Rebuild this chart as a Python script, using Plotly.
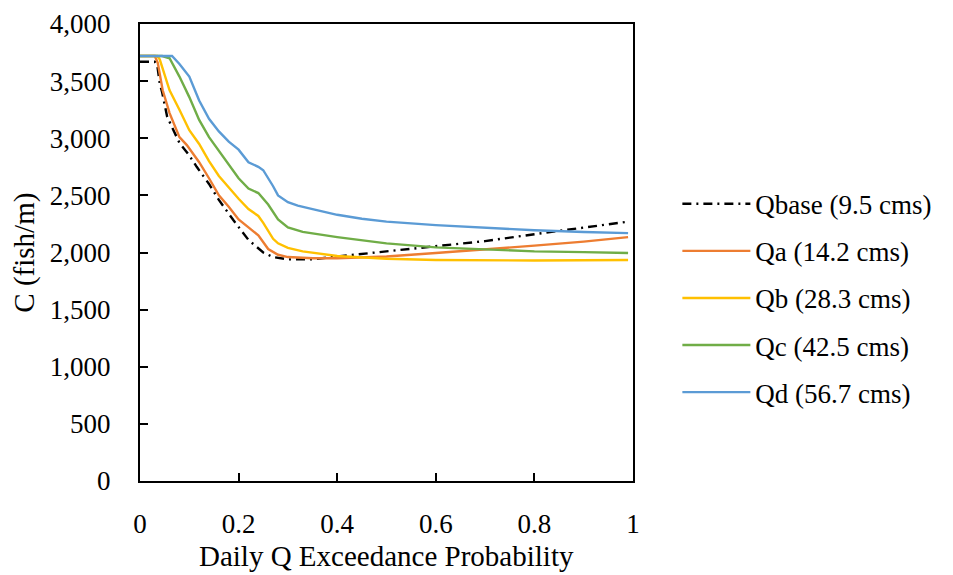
import plotly.graph_objects as go

# Qbase (9.5 cms)
x_base = [0, 0.03, 0.035, 0.04, 0.045, 0.055, 0.07, 0.08, 0.10, 0.115, 0.14, 0.16, 0.19, 0.22, 0.25, 0.27, 0.30, 0.35, 0.40, 0.50, 0.60, 0.70, 0.80, 0.90, 0.99]
y_base = [3670, 3670, 3640, 3480, 3400, 3190, 3050, 2960, 2850, 2750, 2600, 2460, 2280, 2110, 2000, 1960, 1940, 1940, 1965, 2010, 2055, 2100, 2160, 2215, 2270]

# Qa (14.2 cms)
x_a = [0, 0.03, 0.036, 0.046, 0.06, 0.08, 0.095, 0.12, 0.14, 0.16, 0.18, 0.20, 0.22, 0.24, 0.26, 0.28, 0.30, 0.35, 0.40, 0.50, 0.60, 0.70, 0.80, 0.90, 0.95, 0.99]
y_a = [3720, 3720, 3660, 3420, 3220, 3010, 2940, 2790, 2650, 2500, 2400, 2290, 2220, 2150, 2030, 1980, 1960, 1950, 1950, 1965, 1995, 2025, 2060, 2095, 2120, 2135]

# Qb (28.3 cms)
x_b = [0, 0.035, 0.04, 0.06, 0.08, 0.10, 0.12, 0.14, 0.16, 0.18, 0.20, 0.22, 0.24, 0.25, 0.27, 0.28, 0.30, 0.33, 0.40, 0.50, 0.60, 0.80, 0.99]
y_b = [3720, 3720, 3690, 3420, 3250, 3070, 2950, 2800, 2670, 2570, 2470, 2380, 2320, 2260, 2120, 2080, 2040, 2010, 1970, 1945, 1935, 1930, 1935]

# Qc (42.5 cms)
x_c = [0, 0.045, 0.06, 0.08, 0.10, 0.12, 0.14, 0.16, 0.18, 0.20, 0.22, 0.24, 0.26, 0.28, 0.30, 0.33, 0.40, 0.50, 0.60, 0.70, 0.80, 0.90, 0.99]
y_c = [3720, 3720, 3700, 3540, 3360, 3160, 3010, 2890, 2780, 2650, 2560, 2520, 2420, 2290, 2220, 2180, 2135, 2080, 2045, 2025, 2010, 2003, 1995]

# Qd (56.7 cms)
x_d = [0, 0.065, 0.08, 0.10, 0.12, 0.14, 0.16, 0.18, 0.20, 0.22, 0.24, 0.25, 0.27, 0.28, 0.30, 0.32, 0.35, 0.40, 0.45, 0.50, 0.60, 0.70, 0.80, 0.90, 0.99]
y_d = [3720, 3720, 3650, 3540, 3330, 3170, 3060, 2970, 2900, 2790, 2750, 2720, 2580, 2500, 2440, 2410, 2380, 2330, 2295, 2270, 2240, 2215, 2195, 2180, 2170]

series = [
    ("Qbase (9.5 cms)", x_base, y_base, "#000000", "9px,5px,2px,5px"),
    ("Qa (14.2 cms)", x_a, y_a, "#ED7D31", "solid"),
    ("Qb (28.3 cms)", x_b, y_b, "#FFC000", "solid"),
    ("Qc (42.5 cms)", x_c, y_c, "#70AD47", "solid"),
    ("Qd (56.7 cms)", x_d, y_d, "#5B9BD5", "solid"),
]

x_title = "Daily Q Exceedance Probability"
y_title = "C (fish/m)"

fig = go.Figure()
for name, xs, ys, col, dash in series:
    fig.add_trace(go.Scatter(x=xs, y=ys, mode="lines", name=name, legendgroup=name,
                             line=dict(color=col, width=2.4, dash=dash)))

tick_font = dict(family="Liberation Serif", size=27, color="#000000")
big_font = dict(family="Liberation Serif", size=29, color="#000000")
legend_font = dict(family="Liberation Serif", size=27, color="#000000")
fig.update_layout(
    width=945, height=567,
    margin=dict(l=132, r=320, t=16, b=94, autoexpand=False),
    paper_bgcolor="white", plot_bgcolor="white",
    font=tick_font,
    showlegend=True,
    legend=dict(x=1.09, xanchor="left", y=0.40, yanchor="middle",
                font=legend_font, tracegroupgap=9, itemwidth=68,
                bgcolor="rgba(0,0,0,0)"),
    xaxis=dict(range=[0, 1], dtick=0.2, showgrid=False, zeroline=False, automargin=False,
               showline=True, linecolor="black", linewidth=2, mirror=True,
               ticks="inside", ticklen=8, tickwidth=2, tickcolor="black",
               tickfont=tick_font, ticklabelstandoff=18),
    yaxis=dict(range=[0, 4000], dtick=500, tickformat=",d", showgrid=False, zeroline=False, automargin=False,
               showline=True, linecolor="black", linewidth=2, mirror=True,
               ticks="inside", ticklen=8, tickwidth=2, tickcolor="black",
               tickfont=tick_font, ticklabelstandoff=22),
    annotations=[
        dict(text=x_title, xref="paper", yref="paper", x=0.5, y=-0.164,
             xanchor="center", yanchor="middle", showarrow=False, font=big_font),
        dict(text=y_title, xref="paper", yref="paper", x=-0.235, y=0.5,
             xanchor="center", yanchor="middle", showarrow=False, textangle=-90, font=big_font),
    ],
)

fig.write_html("out.html")
